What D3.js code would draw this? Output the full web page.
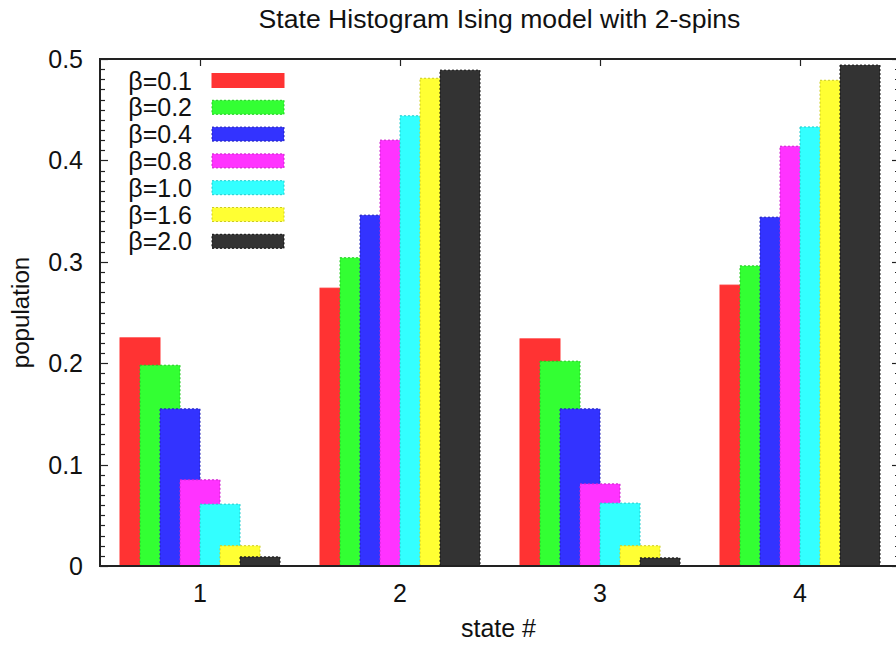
<!DOCTYPE html>
<html>
<head>
<meta charset="utf-8">
<script src="https://cdn.jsdelivr.net/npm/d3@7"></script>
<style>
  html, body { margin: 0; padding: 0; background: #fff; }
  svg { display: block; }
  text { font-family: "Liberation Sans", Arial, Helvetica, sans-serif; fill: #111; }
</style>
</head>
<body>
<svg id="chart" width="896" height="646"></svg>
<script>
// Histogram of the four 2-spin Ising states for several inverse temperatures
const states = [1, 2, 3, 4];
const betaLabels = ["β=0.1", "β=0.2", "β=0.4", "β=0.8", "β=1.0", "β=1.6", "β=2.0"];
const colors = ["#ff3333", "#33ff33", "#3333ff", "#ff33ff", "#33ffff", "#ffff33", "#333333"];
const strokes = ["#ff3333", "#22cc22", "#2222bb", "#cc22cc", "#22cccc", "#cccc22", "#111111"];

const beta01 = [0.225, 0.274, 0.224, 0.277];
const beta02 = [0.198, 0.304, 0.202, 0.296];
const beta04 = [0.155, 0.346, 0.155, 0.344];
const beta08 = [0.085, 0.420, 0.081, 0.414];
const beta10 = [0.061, 0.444, 0.062, 0.433];
const beta16 = [0.020, 0.481, 0.020, 0.479];
const beta20 = [0.009, 0.489, 0.008, 0.494];
const series = [beta01, beta02, beta04, beta08, beta10, beta16, beta20];

const yTicks = [0, 0.1, 0.2, 0.3, 0.4, 0.5];

const svg = d3.select("#chart");
const margin = { left: 100, top: 59, right: -4, bottom: 80 };
const W = 896, H = 646;
const plotL = margin.left, plotR = W - margin.right, plotT = margin.top, plotB = H - margin.bottom;

const x = d3.scaleLinear().domain([0.5, 4.5]).range([plotL, plotR]);
const y = d3.scaleLinear().domain([0, 0.5]).range([plotB, plotT]);

const axisColor = "#222";

// minor and major ticks on left and right borders (drawn first, bars cover them)
const minor = d3.range(0, 0.5001, 0.01);
const tickG = svg.append("g").attr("stroke", axisColor).attr("stroke-width", 1.2);
minor.forEach(v => {
  const isMajor = Math.abs(v * 10 - Math.round(v * 10)) < 1e-6;
  const len = isMajor ? 8 : 5;
  const yy = Math.round(y(v)) + 0.5;
  tickG.append("line").attr("x1", plotL).attr("x2", plotL + len).attr("y1", yy).attr("y2", yy);
  tickG.append("line").attr("x1", plotR).attr("x2", plotR - len).attr("y1", yy).attr("y2", yy);
});
states.forEach(s => {
  const xx = Math.round(x(s)) + 0.5;
  tickG.append("line").attr("x1", xx).attr("x2", xx).attr("y1", plotT).attr("y2", plotT + 7);
  tickG.append("line").attr("x1", xx).attr("x2", xx).attr("y1", plotB).attr("y2", plotB - 7);
});

// bars: each series offset by 0.1 within a state, bar width 0.2 (overlapping)
const barsG = svg.append("g");
series.forEach((vals, j) => {
  barsG.selectAll(null)
    .data(vals.map((v, i) => ({ s: states[i], v })))
    .enter().append("rect")
    .attr("x", d => x(d.s - 0.4 + 0.1 * j))
    .attr("width", d => x(d.s - 0.2 + 0.1 * j) - x(d.s - 0.4 + 0.1 * j))
    .attr("y", d => y(d.v))
    .attr("height", d => y(0) - y(d.v))
    .attr("fill", colors[j])
    .attr("stroke", strokes[j])
    .attr("stroke-width", 1)
    .attr("stroke-dasharray", j === 0 ? null : "2,2");
});

// frame
svg.append("rect")
  .attr("x", plotL).attr("y", plotT)
  .attr("width", plotR - plotL).attr("height", plotB - plotT)
  .attr("fill", "none").attr("stroke", axisColor).attr("stroke-width", 2);

// y tick labels
svg.append("g").selectAll("text").data(yTicks).enter().append("text")
  .attr("x", plotL - 17).attr("y", d => y(d))
  .attr("dy", "0.36em")
  .attr("text-anchor", "end")
  .attr("font-size", 25)
  .text(d => d === 0 ? "0" : d3.format(".1f")(d));

// x tick labels
svg.append("g").selectAll("text").data(states).enter().append("text")
  .attr("x", d => x(d)).attr("y", 602)
  .attr("text-anchor", "middle")
  .attr("font-size", 25)
  .text(d => d);

// title and axis labels
svg.append("text").attr("x", 499.5).attr("y", 28).attr("text-anchor", "middle")
  .attr("font-size", 26.6).text("State Histogram Ising model with 2-spins");
svg.append("text").attr("x", 498.5).attr("y", 637).attr("text-anchor", "middle")
  .attr("font-size", 25).text("state #");
svg.append("text").attr("transform", "translate(29," + ((plotT + plotB) / 2) + ") rotate(-90)")
  .attr("text-anchor", "middle").attr("font-size", 24.2).text("population");

// legend
const legend = svg.append("g");
betaLabels.forEach((lab, j) => {
  const cy = 80.5 + j * 26.8;
  legend.append("text").attr("x", 192).attr("y", cy).attr("dy", "0.36em")
    .attr("text-anchor", "end").attr("font-size", 25).text(lab);
  legend.append("rect").attr("x", 212).attr("y", cy - 7).attr("width", 72).attr("height", 14)
    .attr("fill", colors[j]).attr("stroke", strokes[j]).attr("stroke-width", 1)
    .attr("stroke-dasharray", j === 0 ? null : "2,2");
});
</script>
</body>
</html>
